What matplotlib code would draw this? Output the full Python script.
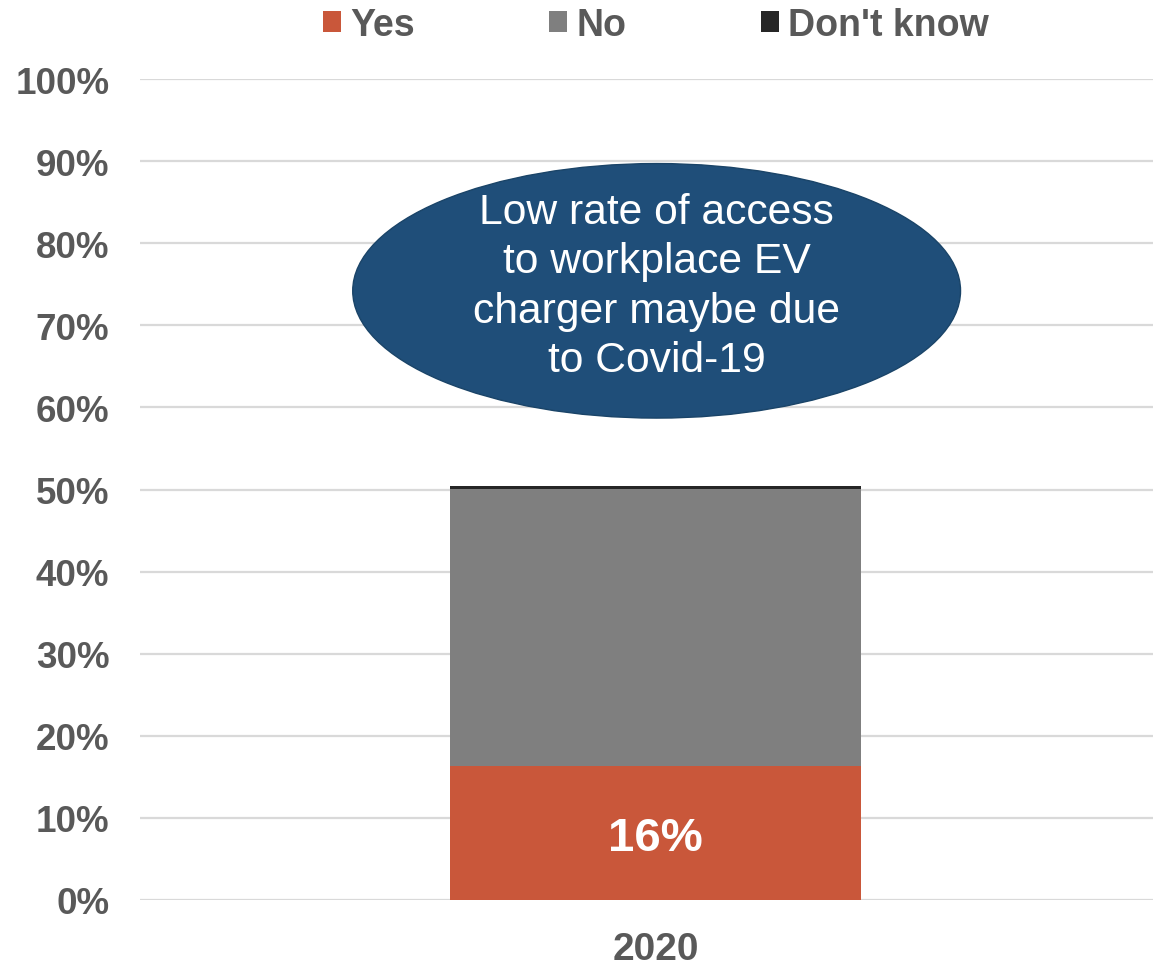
import matplotlib
matplotlib.use("Agg")
import matplotlib.pyplot as plt
from matplotlib.patches import Ellipse

plt.rcParams['font.family'] = ['Liberation Sans', 'DejaVu Sans']

categories = ["2020"]
series_names = ["Yes", "No", "Don't know"]
yes_vals = [16.3]
no_vals = [33.8]
dk_vals = [0.3]
colors = ["#C9573A", "#7F7F7F", "#262626"]
yticks = list(range(0, 101, 10))
ytick_labels = [f"{t}%" for t in yticks]
bar_label = "16%"
note = "Low rate of access\nto workplace EV\ncharger maybe due\nto Covid-19"

fig = plt.figure(figsize=(11.53, 9.70), dpi=100)
ax = fig.add_axes([140/1153, 69/970, 1013/1153, 821/970])

x = [0]
w = 0.406
ax.bar(x, yes_vals, width=w, color=colors[0], label=series_names[0], zorder=3)
bottom2 = [a for a in yes_vals]
ax.bar(x, no_vals, width=w, bottom=bottom2, color=colors[1], label=series_names[1], zorder=3)
bottom3 = [a + b for a, b in zip(yes_vals, no_vals)]
ax.bar(x, dk_vals, width=w, bottom=bottom3, color=colors[2], label=series_names[2], zorder=3)

ax.set_xlim(-0.509, 0.491)
ax.set_ylim(0, 100)
ax.set_yticks(yticks)
ax.set_yticklabels(ytick_labels)
ax.set_xticks(x)
ax.set_xticklabels(categories)
for s in ax.spines.values():
    s.set_visible(False)
ax.tick_params(axis='both', length=0, labelcolor="#595959")
ax.tick_params(axis='y', labelsize=26.5, pad=22)
ax.tick_params(axis='x', labelsize=28, pad=22)
for lab in ax.get_yticklabels() + ax.get_xticklabels():
    lab.set_fontweight('bold')
ax.yaxis.grid(True, color="#D9D9D9", linewidth=1.6, zorder=0)
ax.set_axisbelow(True)

ax.text(0, yes_vals[0] / 2 - 0.6, bar_label, ha='center', va='center', color='white',
        fontsize=34, fontweight='bold', zorder=4)

ell = Ellipse((0.001, 74.2), width=0.600, height=31.0, facecolor="#1F4E79",
              edgecolor="#1A4468", linewidth=1.0, zorder=5)
ax.add_patch(ell)
ax.text(0.001, 74.8, note, ha='center', va='center', color='white', fontsize=30.7,
        linespacing=1.3, zorder=6)

leg = fig.legend(loc='upper center', bbox_to_anchor=(0.569, 1.027), ncol=3, frameon=False,
                 handlelength=0.48, handleheight=0.48, handletextpad=0.24,
                 columnspacing=3.6, prop={'weight': 'bold', 'size': 27})
for t in leg.get_texts():
    t.set_color("#595959")

fig.savefig("out.png", dpi=100)
